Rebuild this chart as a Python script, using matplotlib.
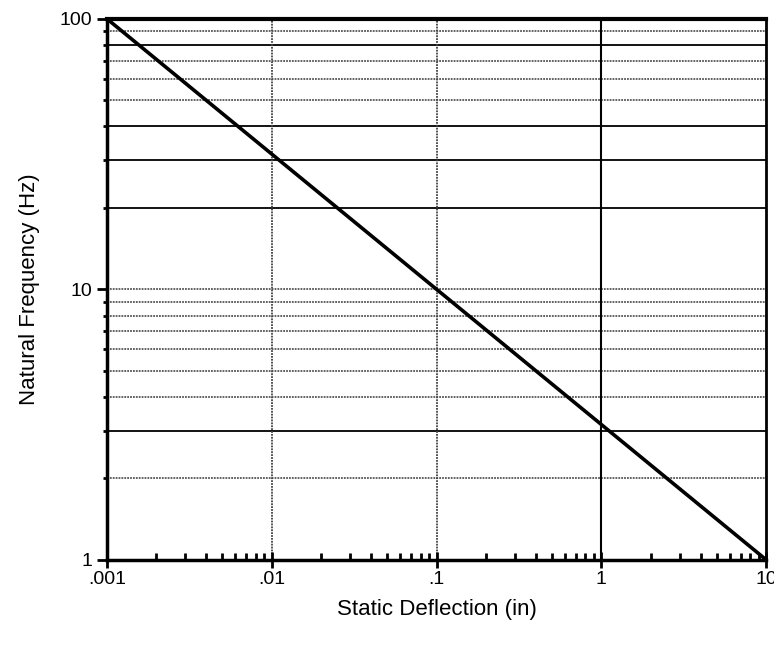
import numpy as np
import matplotlib.pyplot as plt
from matplotlib.ticker import FixedLocator, NullFormatter

# static deflection (in) vs natural frequency (Hz)
deflection = [0.001, 10]
frequency = [100, 1]

x_ticks = [0.001, 0.01, 0.1, 1, 10]
x_labels = ['.001', '.01', '.1', '1', '10']
y_ticks = [1, 10, 100]
y_labels = ['1', '10', '100']
solid_y = [3, 20, 30, 40, 80]
light_y = [2, 4, 5, 6, 7, 8, 9, 10, 50, 60, 70, 90]

plt.rcParams['font.family'] = ['Liberation Sans', 'DejaVu Sans']

fig = plt.figure(figsize=(7.74, 6.45), dpi=100)
ax = fig.add_axes([0.138, 0.132, 0.852, 0.839])
ax.set_xscale('log')
ax.set_yscale('log')
ax.set_xlim(0.001, 10)
ax.set_ylim(1, 100)

for y in light_y:
    ax.axhline(y, color='#555555', lw=1.3, ls=(0, (1, 0.6)), zorder=1)
for y in solid_y:
    ax.axhline(y, color='black', lw=1.3, zorder=1)
for x in [0.01, 0.1]:
    ax.axvline(x, color='#444444', lw=1.3, ls=(0, (1, 0.6)), zorder=1)
ax.axvline(1, color='black', lw=1.5, zorder=1)

ax.plot(deflection, frequency, color='black', lw=2.6, zorder=3)

ax.set_xticks(x_ticks)
ax.set_xticklabels(x_labels)
ax.set_yticks(y_ticks)
ax.set_yticklabels(y_labels)
ax.xaxis.set_minor_locator(FixedLocator([m * 10.0**e for e in range(-3, 1) for m in range(2, 10)]))
ax.yaxis.set_minor_locator(FixedLocator([m * 10.0**e for e in range(0, 2) for m in range(2, 10)]))
ax.xaxis.set_minor_formatter(NullFormatter())
ax.yaxis.set_minor_formatter(NullFormatter())

ax.tick_params(axis='x', which='major', direction='inout', length=12, width=2, labelsize=14, pad=2)
ax.tick_params(axis='x', which='minor', direction='in', length=5, width=2)
ax.tick_params(axis='y', which='major', direction='out', length=7, width=2, labelsize=14)
ax.tick_params(axis='y', which='minor', direction='out', length=3, width=2)

for side in ['left', 'bottom']:
    ax.spines[side].set_linewidth(2.5)
ax.spines['top'].set_linewidth(3)
ax.spines['right'].set_linewidth(2)

ax.set_xlabel('Static Deflection (in)', fontsize=16, labelpad=8)
ax.set_ylabel('Natural Frequency (Hz)', fontsize=16, labelpad=14)

fig.savefig('out.png', dpi=100)
